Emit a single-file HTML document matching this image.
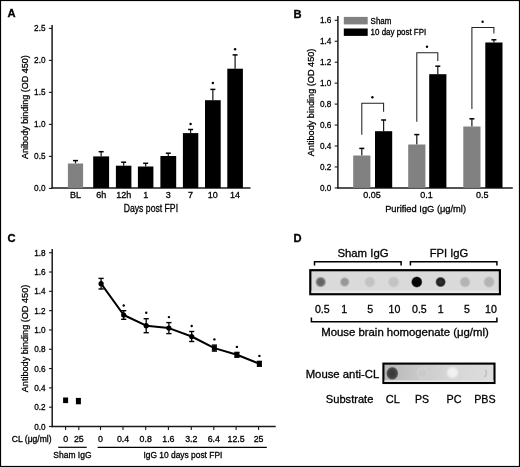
<!DOCTYPE html>
<html><head><meta charset="utf-8"><style>
html,body{margin:0;padding:0;background:#fff;}
svg{display:block;will-change:transform;filter:blur(0.3px);}
text{font-family:"Liberation Sans", sans-serif;stroke:#000;stroke-width:0.3px;}
</style></head><body>
<svg width="520" height="467" viewBox="0 0 520 467">
<text x="7.6" y="17.3" font-size="11.2" font-weight="bold" fill="#000">A</text>
<line x1="52.1" y1="25" x2="52.1" y2="188.7" stroke="#1a1a1a" stroke-width="1.5"/>
<line x1="51.4" y1="188.0" x2="250.5" y2="188.0" stroke="#1a1a1a" stroke-width="1.5"/>
<line x1="48.9" y1="188.4" x2="52.1" y2="188.4" stroke="#1a1a1a" stroke-width="1.1"/>
<text x="45.5" y="191.4" font-size="9" text-anchor="end" textLength="11.4" lengthAdjust="spacingAndGlyphs" fill="#000">0.0</text>
<line x1="48.9" y1="156.4" x2="52.1" y2="156.4" stroke="#1a1a1a" stroke-width="1.1"/>
<text x="45.5" y="159.4" font-size="9" text-anchor="end" textLength="11.4" lengthAdjust="spacingAndGlyphs" fill="#000">0.5</text>
<line x1="48.9" y1="124.4" x2="52.1" y2="124.4" stroke="#1a1a1a" stroke-width="1.1"/>
<text x="45.5" y="127.4" font-size="9" text-anchor="end" textLength="11.4" lengthAdjust="spacingAndGlyphs" fill="#000">1.0</text>
<line x1="48.9" y1="92.4" x2="52.1" y2="92.4" stroke="#1a1a1a" stroke-width="1.1"/>
<text x="45.5" y="95.4" font-size="9" text-anchor="end" textLength="11.4" lengthAdjust="spacingAndGlyphs" fill="#000">1.5</text>
<line x1="48.9" y1="60.4" x2="52.1" y2="60.4" stroke="#1a1a1a" stroke-width="1.1"/>
<text x="45.5" y="63.4" font-size="9" text-anchor="end" textLength="11.4" lengthAdjust="spacingAndGlyphs" fill="#000">2.0</text>
<line x1="48.9" y1="28.4" x2="52.1" y2="28.4" stroke="#1a1a1a" stroke-width="1.1"/>
<text x="45.5" y="31.4" font-size="9" text-anchor="end" textLength="11.4" lengthAdjust="spacingAndGlyphs" fill="#000">2.5</text>
<text x="0" y="0" font-size="9.9" text-anchor="middle" textLength="103.8" lengthAdjust="spacingAndGlyphs" fill="#000" transform="translate(27.9,107.05) rotate(-90)">Anibody binding (OD 450)</text>
<line x1="75.5" y1="160.6" x2="75.5" y2="163.5" stroke="#1c1c1c" stroke-width="1.25"/>
<line x1="73.0" y1="160.6" x2="78.0" y2="160.6" stroke="#000" stroke-width="1.5"/>
<rect x="67.9" y="163.5" width="15.2" height="24.5" fill="#818181"/>
<text x="75.5" y="198.3" font-size="9" text-anchor="middle" fill="#000">BL</text>
<line x1="101.15" y1="151.7" x2="101.15" y2="156.4" stroke="#1c1c1c" stroke-width="1.25"/>
<line x1="98.65" y1="151.7" x2="103.65" y2="151.7" stroke="#000" stroke-width="1.5"/>
<rect x="93.2" y="156.4" width="15.9" height="31.599999999999994" fill="#000"/>
<text x="101.15" y="198.3" font-size="9" text-anchor="middle" fill="#000">6h</text>
<line x1="123.65" y1="162.2" x2="123.65" y2="165.7" stroke="#1c1c1c" stroke-width="1.25"/>
<line x1="121.15" y1="162.2" x2="126.15" y2="162.2" stroke="#000" stroke-width="1.5"/>
<rect x="115.9" y="165.7" width="15.5" height="22.30000000000001" fill="#000"/>
<text x="123.65" y="198.3" font-size="9" text-anchor="middle" fill="#000">12h</text>
<line x1="145.65" y1="163.3" x2="145.65" y2="166.5" stroke="#1c1c1c" stroke-width="1.25"/>
<line x1="143.15" y1="163.3" x2="148.15" y2="163.3" stroke="#000" stroke-width="1.5"/>
<rect x="137.9" y="166.5" width="15.5" height="21.5" fill="#000"/>
<text x="145.65" y="198.3" font-size="9" text-anchor="middle" fill="#000">1</text>
<line x1="168.3" y1="153.2" x2="168.3" y2="156.0" stroke="#1c1c1c" stroke-width="1.25"/>
<line x1="165.8" y1="153.2" x2="170.8" y2="153.2" stroke="#000" stroke-width="1.5"/>
<rect x="160.4" y="156.0" width="15.8" height="32.0" fill="#000"/>
<text x="168.3" y="198.3" font-size="9" text-anchor="middle" fill="#000">3</text>
<line x1="190.6" y1="129.5" x2="190.6" y2="133.1" stroke="#1c1c1c" stroke-width="1.25"/>
<line x1="188.1" y1="129.5" x2="193.1" y2="129.5" stroke="#000" stroke-width="1.5"/>
<rect x="182.9" y="133.1" width="15.4" height="54.900000000000006" fill="#000"/>
<text x="190.6" y="198.3" font-size="9" text-anchor="middle" fill="#000">7</text>
<circle cx="190.6" cy="124" r="1.2" fill="#000"/>
<line x1="212.85" y1="89.4" x2="212.85" y2="100.2" stroke="#1c1c1c" stroke-width="1.25"/>
<line x1="210.35" y1="89.4" x2="215.35" y2="89.4" stroke="#000" stroke-width="1.5"/>
<rect x="205.0" y="100.2" width="15.7" height="87.8" fill="#000"/>
<text x="212.85" y="198.3" font-size="9" text-anchor="middle" fill="#000">10</text>
<circle cx="212.85" cy="83" r="1.2" fill="#000"/>
<line x1="235.10000000000002" y1="54.9" x2="235.10000000000002" y2="68.7" stroke="#1c1c1c" stroke-width="1.25"/>
<line x1="232.60000000000002" y1="54.9" x2="237.60000000000002" y2="54.9" stroke="#000" stroke-width="1.5"/>
<rect x="227.3" y="68.7" width="15.6" height="119.3" fill="#000"/>
<text x="235.10000000000002" y="198.3" font-size="9" text-anchor="middle" fill="#000">14</text>
<circle cx="235.10000000000002" cy="49.3" r="1.2" fill="#000"/>
<text x="150.9" y="211.7" font-size="10.2" text-anchor="middle" textLength="54.3" lengthAdjust="spacingAndGlyphs" fill="#000">Days post FPI</text>
<text x="293.5" y="17.8" font-size="11.2" font-weight="bold" fill="#000">B</text>
<line x1="337.9" y1="16" x2="337.9" y2="188.6" stroke="#1a1a1a" stroke-width="1.5"/>
<line x1="337.2" y1="187.9" x2="512.8" y2="187.9" stroke="#1a1a1a" stroke-width="1.5"/>
<line x1="334.7" y1="187.9" x2="337.9" y2="187.9" stroke="#1a1a1a" stroke-width="1.1"/>
<text x="331.3" y="190.8" font-size="9" text-anchor="end" textLength="11.4" lengthAdjust="spacingAndGlyphs" fill="#000">0.0</text>
<line x1="334.7" y1="166.95000000000002" x2="337.9" y2="166.95000000000002" stroke="#1a1a1a" stroke-width="1.1"/>
<text x="331.3" y="169.85000000000002" font-size="9" text-anchor="end" textLength="11.4" lengthAdjust="spacingAndGlyphs" fill="#000">0.2</text>
<line x1="334.7" y1="146.0" x2="337.9" y2="146.0" stroke="#1a1a1a" stroke-width="1.1"/>
<text x="331.3" y="148.9" font-size="9" text-anchor="end" textLength="11.4" lengthAdjust="spacingAndGlyphs" fill="#000">0.4</text>
<line x1="334.7" y1="125.05000000000001" x2="337.9" y2="125.05000000000001" stroke="#1a1a1a" stroke-width="1.1"/>
<text x="331.3" y="127.95000000000002" font-size="9" text-anchor="end" textLength="11.4" lengthAdjust="spacingAndGlyphs" fill="#000">0.6</text>
<line x1="334.7" y1="104.10000000000001" x2="337.9" y2="104.10000000000001" stroke="#1a1a1a" stroke-width="1.1"/>
<text x="331.3" y="107.00000000000001" font-size="9" text-anchor="end" textLength="11.4" lengthAdjust="spacingAndGlyphs" fill="#000">0.8</text>
<line x1="334.7" y1="83.15" x2="337.9" y2="83.15" stroke="#1a1a1a" stroke-width="1.1"/>
<text x="331.3" y="86.05000000000001" font-size="9" text-anchor="end" textLength="11.4" lengthAdjust="spacingAndGlyphs" fill="#000">1.0</text>
<line x1="334.7" y1="62.20000000000002" x2="337.9" y2="62.20000000000002" stroke="#1a1a1a" stroke-width="1.1"/>
<text x="331.3" y="65.10000000000002" font-size="9" text-anchor="end" textLength="11.4" lengthAdjust="spacingAndGlyphs" fill="#000">1.2</text>
<line x1="334.7" y1="41.25" x2="337.9" y2="41.25" stroke="#1a1a1a" stroke-width="1.1"/>
<text x="331.3" y="44.15" font-size="9" text-anchor="end" textLength="11.4" lengthAdjust="spacingAndGlyphs" fill="#000">1.4</text>
<line x1="334.7" y1="20.30000000000001" x2="337.9" y2="20.30000000000001" stroke="#1a1a1a" stroke-width="1.1"/>
<text x="331.3" y="23.20000000000001" font-size="9" text-anchor="end" textLength="11.4" lengthAdjust="spacingAndGlyphs" fill="#000">1.6</text>
<text x="0" y="0" font-size="9.9" text-anchor="middle" textLength="107.6" lengthAdjust="spacingAndGlyphs" fill="#000" transform="translate(313.7,102.45) rotate(-90)">Antibody binding (OD 450)</text>
<rect x="343.8" y="16.9" width="23.9" height="7.5" fill="#818181"/>
<rect x="343.8" y="28.5" width="23.9" height="7.4" fill="#000"/>
<text x="370.6" y="23.7" font-size="8.3" textLength="20.8" lengthAdjust="spacingAndGlyphs" fill="#000">Sham</text>
<text x="370.6" y="35.4" font-size="8.3" textLength="55.6" lengthAdjust="spacingAndGlyphs" fill="#000">10 day post FPI</text>
<line x1="361.8" y1="148.4" x2="361.8" y2="155.5" stroke="#1c1c1c" stroke-width="1.25"/>
<line x1="359.3" y1="148.4" x2="364.3" y2="148.4" stroke="#000" stroke-width="1.5"/>
<line x1="383.6" y1="120.0" x2="383.6" y2="131.2" stroke="#1c1c1c" stroke-width="1.25"/>
<line x1="381.1" y1="120.0" x2="386.1" y2="120.0" stroke="#000" stroke-width="1.5"/>
<rect x="353.2" y="155.5" width="17.2" height="32.400000000000006" fill="#818181"/>
<rect x="375.0" y="131.2" width="17.2" height="56.70000000000002" fill="#000"/>
<polyline points="361.8,134.7 361.8,103.2 383.6,103.2 383.6,111.7" fill="none" stroke="#222" stroke-width="1.05"/>
<circle cx="372.40000000000003" cy="97.2" r="1.2" fill="#000"/>
<line x1="416.8" y1="134.6" x2="416.8" y2="144.5" stroke="#1c1c1c" stroke-width="1.25"/>
<line x1="414.3" y1="134.6" x2="419.3" y2="134.6" stroke="#000" stroke-width="1.5"/>
<line x1="437.8" y1="66.2" x2="437.8" y2="74.2" stroke="#1c1c1c" stroke-width="1.25"/>
<line x1="435.3" y1="66.2" x2="440.3" y2="66.2" stroke="#000" stroke-width="1.5"/>
<rect x="408.2" y="144.5" width="17.2" height="43.400000000000006" fill="#818181"/>
<rect x="429.2" y="74.2" width="17.2" height="113.7" fill="#000"/>
<polyline points="416.8,121.7 416.8,52.7 437.8,52.7 437.8,61.0" fill="none" stroke="#222" stroke-width="1.05"/>
<circle cx="427.0" cy="46.8" r="1.2" fill="#000"/>
<line x1="471.90000000000003" y1="118.8" x2="471.90000000000003" y2="126.5" stroke="#1c1c1c" stroke-width="1.25"/>
<line x1="469.40000000000003" y1="118.8" x2="474.40000000000003" y2="118.8" stroke="#000" stroke-width="1.5"/>
<line x1="493.90000000000003" y1="39.8" x2="493.90000000000003" y2="42.5" stroke="#1c1c1c" stroke-width="1.25"/>
<line x1="491.40000000000003" y1="39.8" x2="496.40000000000003" y2="39.8" stroke="#000" stroke-width="1.5"/>
<rect x="463.3" y="126.5" width="17.2" height="61.400000000000006" fill="#818181"/>
<rect x="485.3" y="42.5" width="17.2" height="145.4" fill="#000"/>
<polyline points="471.90000000000003,109.0 471.90000000000003,27.4 493.90000000000003,27.4 493.90000000000003,33.4" fill="none" stroke="#222" stroke-width="1.05"/>
<circle cx="482.6" cy="21.8" r="1.2" fill="#000"/>
<text x="372.0" y="198.3" font-size="9" text-anchor="middle" fill="#000">0.05</text>
<text x="426.6" y="198.3" font-size="9" text-anchor="middle" fill="#000">0.1</text>
<text x="482.3" y="198.3" font-size="9" text-anchor="middle" fill="#000">0.5</text>
<text x="425.6" y="212.1" font-size="9.6" text-anchor="middle" textLength="80.9" lengthAdjust="spacingAndGlyphs" fill="#000">Purified IgG (μg/ml)</text>
<text x="7.5" y="241.7" font-size="11.2" font-weight="bold" fill="#000">C</text>
<line x1="52.2" y1="249" x2="52.2" y2="427.2" stroke="#1a1a1a" stroke-width="1.5"/>
<line x1="51.5" y1="426.5" x2="275.7" y2="426.5" stroke="#1a1a1a" stroke-width="1.5"/>
<line x1="49.0" y1="426.5" x2="52.2" y2="426.5" stroke="#1a1a1a" stroke-width="1.1"/>
<text x="45.6" y="429.5" font-size="9" text-anchor="end" textLength="11.4" lengthAdjust="spacingAndGlyphs" fill="#000">0.0</text>
<line x1="49.0" y1="407.19" x2="52.2" y2="407.19" stroke="#1a1a1a" stroke-width="1.1"/>
<text x="45.6" y="410.19" font-size="9" text-anchor="end" textLength="11.4" lengthAdjust="spacingAndGlyphs" fill="#000">0.2</text>
<line x1="49.0" y1="387.88" x2="52.2" y2="387.88" stroke="#1a1a1a" stroke-width="1.1"/>
<text x="45.6" y="390.88" font-size="9" text-anchor="end" textLength="11.4" lengthAdjust="spacingAndGlyphs" fill="#000">0.4</text>
<line x1="49.0" y1="368.57" x2="52.2" y2="368.57" stroke="#1a1a1a" stroke-width="1.1"/>
<text x="45.6" y="371.57" font-size="9" text-anchor="end" textLength="11.4" lengthAdjust="spacingAndGlyphs" fill="#000">0.6</text>
<line x1="49.0" y1="349.26" x2="52.2" y2="349.26" stroke="#1a1a1a" stroke-width="1.1"/>
<text x="45.6" y="352.26" font-size="9" text-anchor="end" textLength="11.4" lengthAdjust="spacingAndGlyphs" fill="#000">0.8</text>
<line x1="49.0" y1="329.95" x2="52.2" y2="329.95" stroke="#1a1a1a" stroke-width="1.1"/>
<text x="45.6" y="332.95" font-size="9" text-anchor="end" textLength="11.4" lengthAdjust="spacingAndGlyphs" fill="#000">1.0</text>
<line x1="49.0" y1="310.64" x2="52.2" y2="310.64" stroke="#1a1a1a" stroke-width="1.1"/>
<text x="45.6" y="313.64" font-size="9" text-anchor="end" textLength="11.4" lengthAdjust="spacingAndGlyphs" fill="#000">1.2</text>
<line x1="49.0" y1="291.33000000000004" x2="52.2" y2="291.33000000000004" stroke="#1a1a1a" stroke-width="1.1"/>
<text x="45.6" y="294.33000000000004" font-size="9" text-anchor="end" textLength="11.4" lengthAdjust="spacingAndGlyphs" fill="#000">1.4</text>
<line x1="49.0" y1="272.02" x2="52.2" y2="272.02" stroke="#1a1a1a" stroke-width="1.1"/>
<text x="45.6" y="275.02" font-size="9" text-anchor="end" textLength="11.4" lengthAdjust="spacingAndGlyphs" fill="#000">1.6</text>
<line x1="49.0" y1="252.71" x2="52.2" y2="252.71" stroke="#1a1a1a" stroke-width="1.1"/>
<text x="45.6" y="255.71" font-size="9" text-anchor="end" textLength="11.4" lengthAdjust="spacingAndGlyphs" fill="#000">1.8</text>
<text x="0" y="0" font-size="9.9" text-anchor="middle" textLength="107.5" lengthAdjust="spacingAndGlyphs" fill="#000" transform="translate(27.9,338.5) rotate(-90)">Antibody binding (OD 450)</text>
<line x1="65.6" y1="426.5" x2="65.6" y2="430.1" stroke="#1a1a1a" stroke-width="1.1"/>
<text x="65.6" y="442" font-size="8.8" text-anchor="middle" fill="#000">0</text>
<line x1="78.8" y1="426.5" x2="78.8" y2="430.1" stroke="#1a1a1a" stroke-width="1.1"/>
<text x="78.8" y="442" font-size="8.8" text-anchor="middle" fill="#000">25</text>
<line x1="100.5" y1="426.5" x2="100.5" y2="430.1" stroke="#1a1a1a" stroke-width="1.1"/>
<text x="100.5" y="442" font-size="8.8" text-anchor="middle" fill="#000">0</text>
<line x1="123.0" y1="426.5" x2="123.0" y2="430.1" stroke="#1a1a1a" stroke-width="1.1"/>
<text x="123.0" y="442" font-size="8.8" text-anchor="middle" fill="#000">0.4</text>
<line x1="145.7" y1="426.5" x2="145.7" y2="430.1" stroke="#1a1a1a" stroke-width="1.1"/>
<text x="145.7" y="442" font-size="8.8" text-anchor="middle" fill="#000">0.8</text>
<line x1="168.4" y1="426.5" x2="168.4" y2="430.1" stroke="#1a1a1a" stroke-width="1.1"/>
<text x="168.4" y="442" font-size="8.8" text-anchor="middle" fill="#000">1.6</text>
<line x1="191.3" y1="426.5" x2="191.3" y2="430.1" stroke="#1a1a1a" stroke-width="1.1"/>
<text x="191.3" y="442" font-size="8.8" text-anchor="middle" fill="#000">3.2</text>
<line x1="213.8" y1="426.5" x2="213.8" y2="430.1" stroke="#1a1a1a" stroke-width="1.1"/>
<text x="213.8" y="442" font-size="8.8" text-anchor="middle" fill="#000">6.4</text>
<line x1="236.1" y1="426.5" x2="236.1" y2="430.1" stroke="#1a1a1a" stroke-width="1.1"/>
<text x="236.1" y="442" font-size="8.8" text-anchor="middle" fill="#000">12.5</text>
<line x1="258.6" y1="426.5" x2="258.6" y2="430.1" stroke="#1a1a1a" stroke-width="1.1"/>
<text x="258.6" y="442" font-size="8.8" text-anchor="middle" fill="#000">25</text>
<text x="11.8" y="442.1" font-size="8.6" textLength="39.8" lengthAdjust="spacingAndGlyphs" fill="#000">CL (μg/ml)</text>
<line x1="58.2" y1="447.3" x2="86.7" y2="447.3" stroke="#000" stroke-width="1.2"/>
<line x1="97.6" y1="447.3" x2="266.8" y2="447.3" stroke="#000" stroke-width="1.2"/>
<text x="53.3" y="458.1" font-size="8.5" textLength="38.2" lengthAdjust="spacingAndGlyphs" fill="#000">Sham IgG</text>
<text x="143.4" y="458.2" font-size="8.5" textLength="79" lengthAdjust="spacingAndGlyphs" fill="#000">IgG 10 days post FPI</text>
<rect x="63.099999999999994" y="397.5" width="5.0" height="5.6" fill="#000"/>
<rect x="75.9" y="397.90000000000003" width="5.0" height="6.4" fill="#000"/>
<polyline points="101.1,283.7 123.7,315.0 146.2,325.7 168.9,328.1 191.7,336.5 214.4,348.1 236.9,354.8 259.4,363.8" fill="none" stroke="#000" stroke-width="2" stroke-linejoin="round"/>
<line x1="101.1" y1="278.4" x2="101.1" y2="289.0" stroke="#000" stroke-width="1.3"/>
<line x1="98.5" y1="278.4" x2="103.69999999999999" y2="278.4" stroke="#000" stroke-width="1.4"/>
<line x1="98.5" y1="289.0" x2="103.69999999999999" y2="289.0" stroke="#000" stroke-width="1.4"/>
<circle cx="101.1" cy="283.7" r="2.6" fill="#000"/>
<line x1="123.7" y1="310.7" x2="123.7" y2="319.3" stroke="#000" stroke-width="1.3"/>
<line x1="121.10000000000001" y1="310.7" x2="126.3" y2="310.7" stroke="#000" stroke-width="1.4"/>
<line x1="121.10000000000001" y1="319.3" x2="126.3" y2="319.3" stroke="#000" stroke-width="1.4"/>
<circle cx="123.7" cy="315.0" r="2.6" fill="#000"/>
<circle cx="123.7" cy="305.5" r="1.2" fill="#000"/>
<line x1="146.2" y1="318.7" x2="146.2" y2="332.7" stroke="#000" stroke-width="1.3"/>
<line x1="143.6" y1="318.7" x2="148.79999999999998" y2="318.7" stroke="#000" stroke-width="1.4"/>
<line x1="143.6" y1="332.7" x2="148.79999999999998" y2="332.7" stroke="#000" stroke-width="1.4"/>
<circle cx="146.2" cy="325.7" r="2.6" fill="#000"/>
<circle cx="146.2" cy="312.8" r="1.2" fill="#000"/>
<line x1="168.9" y1="322.6" x2="168.9" y2="333.6" stroke="#000" stroke-width="1.3"/>
<line x1="166.3" y1="322.6" x2="171.5" y2="322.6" stroke="#000" stroke-width="1.4"/>
<line x1="166.3" y1="333.6" x2="171.5" y2="333.6" stroke="#000" stroke-width="1.4"/>
<circle cx="168.9" cy="328.1" r="2.6" fill="#000"/>
<circle cx="168.9" cy="317.1" r="1.2" fill="#000"/>
<line x1="191.7" y1="331.5" x2="191.7" y2="341.5" stroke="#000" stroke-width="1.3"/>
<line x1="189.1" y1="331.5" x2="194.29999999999998" y2="331.5" stroke="#000" stroke-width="1.4"/>
<line x1="189.1" y1="341.5" x2="194.29999999999998" y2="341.5" stroke="#000" stroke-width="1.4"/>
<circle cx="191.7" cy="336.5" r="2.6" fill="#000"/>
<circle cx="191.7" cy="326.0" r="1.2" fill="#000"/>
<line x1="214.4" y1="345.1" x2="214.4" y2="351.1" stroke="#000" stroke-width="1.3"/>
<line x1="211.8" y1="345.1" x2="217.0" y2="345.1" stroke="#000" stroke-width="1.4"/>
<line x1="211.8" y1="351.1" x2="217.0" y2="351.1" stroke="#000" stroke-width="1.4"/>
<rect x="211.9" y="345.6" width="5.0" height="5.0" fill="#000"/>
<circle cx="214.4" cy="339.4" r="1.2" fill="#000"/>
<line x1="236.9" y1="352.40000000000003" x2="236.9" y2="357.2" stroke="#000" stroke-width="1.3"/>
<line x1="234.3" y1="352.40000000000003" x2="239.5" y2="352.40000000000003" stroke="#000" stroke-width="1.4"/>
<line x1="234.3" y1="357.2" x2="239.5" y2="357.2" stroke="#000" stroke-width="1.4"/>
<rect x="234.4" y="352.3" width="5.0" height="5.0" fill="#000"/>
<circle cx="236.9" cy="346.9" r="1.2" fill="#000"/>
<line x1="259.4" y1="361.40000000000003" x2="259.4" y2="366.2" stroke="#000" stroke-width="1.3"/>
<line x1="256.79999999999995" y1="361.40000000000003" x2="262.0" y2="361.40000000000003" stroke="#000" stroke-width="1.4"/>
<line x1="256.79999999999995" y1="366.2" x2="262.0" y2="366.2" stroke="#000" stroke-width="1.4"/>
<rect x="256.9" y="361.3" width="5.0" height="5.0" fill="#000"/>
<circle cx="259.4" cy="355.9" r="1.2" fill="#000"/>
<text x="293.5" y="241.6" font-size="11.2" font-weight="bold" fill="#000">D</text>
<text x="337.4" y="257.4" font-size="11.2" textLength="51.2" lengthAdjust="spacingAndGlyphs" fill="#000">Sham IgG</text>
<text x="429.7" y="257.2" font-size="11.2" textLength="38.6" lengthAdjust="spacingAndGlyphs" fill="#000">FPI IgG</text>
<polyline points="314.5,265.6 314.5,261.7 401.1,261.7 401.1,265.6" fill="none" stroke="#000" stroke-width="1.5"/>
<polyline points="410.4,265.6 410.4,261.7 496.9,261.7 496.9,265.6" fill="none" stroke="#000" stroke-width="1.5"/>
<defs><radialGradient id="g1"><stop offset="0" stop-color="#5e5e5e"/><stop offset="0.6" stop-color="#6a6a6a"/><stop offset="1" stop-color="#6a6a6a" stop-opacity="0"/></radialGradient><radialGradient id="g2"><stop offset="0" stop-color="#959595"/><stop offset="0.6" stop-color="#9a9a9a"/><stop offset="1" stop-color="#9a9a9a" stop-opacity="0"/></radialGradient><radialGradient id="g3"><stop offset="0" stop-color="#c2c2c2"/><stop offset="0.65" stop-color="#c4c4c4"/><stop offset="1" stop-color="#c4c4c4" stop-opacity="0"/></radialGradient><radialGradient id="g5"><stop offset="0" stop-color="#000"/><stop offset="0.75" stop-color="#050505"/><stop offset="1" stop-color="#050505" stop-opacity="0"/></radialGradient><radialGradient id="g6"><stop offset="0" stop-color="#333"/><stop offset="0.7" stop-color="#1e1e1e"/><stop offset="1" stop-color="#1e1e1e" stop-opacity="0"/></radialGradient><radialGradient id="g7"><stop offset="0" stop-color="#b3b3b3"/><stop offset="0.65" stop-color="#b5b5b5"/><stop offset="1" stop-color="#b5b5b5" stop-opacity="0"/></radialGradient><radialGradient id="gcl"><stop offset="0" stop-color="#383838"/><stop offset="0.55" stop-color="#3e3e3e"/><stop offset="0.8" stop-color="#555"/><stop offset="1" stop-color="#777" stop-opacity="0"/></radialGradient><radialGradient id="gpc"><stop offset="0" stop-color="#f4f4f4"/><stop offset="0.6" stop-color="#eeeeee"/><stop offset="1" stop-color="#eeeeee" stop-opacity="0"/></radialGradient><linearGradient id="s2bg" x1="0" x2="1" y1="0" y2="0"><stop offset="0" stop-color="#b6b6b6"/><stop offset="0.35" stop-color="#cbcbcb"/><stop offset="0.6" stop-color="#d6d6d6"/><stop offset="1" stop-color="#dddddd"/></linearGradient></defs>
<rect x="310.3" y="270.2" width="189.6" height="24.0" fill="#dadada" stroke="#000" stroke-width="2.2"/>
<rect x="311.5" y="290.6" width="187.2" height="2.5" fill="#e6e6e6"/>
<circle cx="320.7" cy="282.0" r="5.8" fill="url(#g1)"/>
<circle cx="344.7" cy="282.0" r="5.3" fill="url(#g2)"/>
<circle cx="369.8" cy="282.0" r="6.0" fill="url(#g3)"/>
<circle cx="393.6" cy="282.0" r="6.2" fill="url(#g3)"/>
<circle cx="416.8" cy="282.0" r="5.9" fill="url(#g5)"/>
<circle cx="440.6" cy="282.0" r="5.5" fill="url(#g6)"/>
<circle cx="465.0" cy="282.0" r="5.9" fill="url(#g7)"/>
<circle cx="489.1" cy="282.0" r="6.2" fill="url(#g7)"/>
<text x="322.3" y="312.5" font-size="10.6" text-anchor="middle" fill="#000">0.5</text>
<text x="344.3" y="312.5" font-size="10.6" text-anchor="middle" fill="#000">1</text>
<text x="370.3" y="312.5" font-size="10.6" text-anchor="middle" fill="#000">5</text>
<text x="394.4" y="312.5" font-size="10.6" text-anchor="middle" fill="#000">10</text>
<text x="419.4" y="312.5" font-size="10.6" text-anchor="middle" fill="#000">0.5</text>
<text x="440.8" y="312.5" font-size="10.6" text-anchor="middle" fill="#000">1</text>
<text x="466.9" y="312.5" font-size="10.6" text-anchor="middle" fill="#000">5</text>
<text x="490.9" y="312.5" font-size="10.6" text-anchor="middle" fill="#000">10</text>
<polyline points="311.4,317.6 311.4,321.7 496.9,321.7 496.9,317.6" fill="none" stroke="#000" stroke-width="1.5"/>
<text x="321.2" y="336.0" font-size="10.7" textLength="167.6" lengthAdjust="spacingAndGlyphs" fill="#000">Mouse brain homogenate (μg/ml)</text>
<text x="305.7" y="377.6" font-size="11" textLength="73.6" lengthAdjust="spacingAndGlyphs" fill="#000">Mouse anti-CL</text>
<rect x="383.4" y="363.6" width="111.1" height="19.4" fill="url(#s2bg)" stroke="#000" stroke-width="2.1"/>
<rect x="384.5" y="380.2" width="109" height="1.8" fill="#e2e2e2"/>
<circle cx="422.7" cy="373" r="5.2" fill="none" stroke="#d2d2d2" stroke-width="1.4"/>
<circle cx="482" cy="373" r="4.5" fill="none" stroke="#bcbcbc" stroke-width="1.3" stroke-dasharray="9 19.9" stroke-dashoffset="4.5"/>
<ellipse cx="392.3" cy="373.4" rx="6.4" ry="7.0" fill="url(#gcl)"/>
<ellipse cx="452.5" cy="372.6" rx="6.8" ry="6.8" fill="url(#gpc)"/>
<text x="325.8" y="403.1" font-size="11" textLength="47.6" lengthAdjust="spacingAndGlyphs" fill="#000">Substrate</text>
<text x="385.8" y="403.3" font-size="11" textLength="14.0" lengthAdjust="spacingAndGlyphs" fill="#000">CL</text>
<text x="415.1" y="403.3" font-size="11" textLength="14.0" lengthAdjust="spacingAndGlyphs" fill="#000">PS</text>
<text x="446.5" y="403.3" font-size="11" textLength="14.9" lengthAdjust="spacingAndGlyphs" fill="#000">PC</text>
<text x="474.2" y="403.3" font-size="11" textLength="21.4" lengthAdjust="spacingAndGlyphs" fill="#000">PBS</text>
<rect x="0.5" y="0.5" width="519" height="466" fill="none" stroke="#000" stroke-width="1.2"/>
</svg>
</body></html>
